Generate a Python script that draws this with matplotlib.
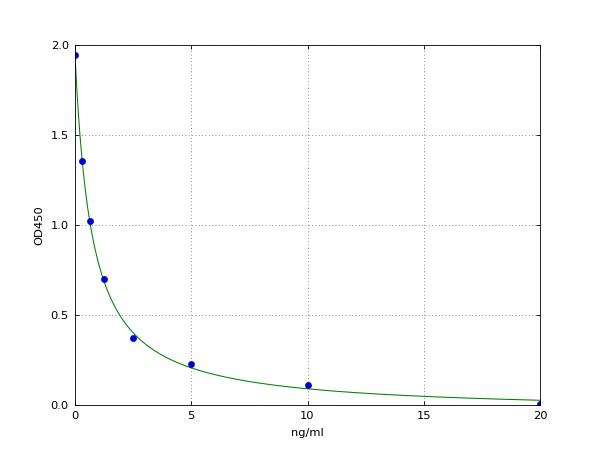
import numpy as np
import matplotlib
matplotlib.use("Agg")
import matplotlib.pyplot as plt

# standard curve points
conc = [0, 0.3125, 0.625, 1.25, 2.5, 5, 10, 20]
od450 = [1.945, 1.357, 1.02, 0.70, 0.372, 0.226, 0.111, 0.005]

x_ticks = [0, 5, 10, 15, 20]
y_ticks = [0.0, 0.5, 1.0, 1.5, 2.0]


def four_pl(x, a, b, c, d):
    u = np.power(np.asarray(x, float) / c, b)
    return d + (a - d) / (1.0 + u)


def fit_4pl(x, y, p0, n_iter=200):
    # small Levenberg-Marquardt fit, numpy only
    x = np.asarray(x, float)
    y = np.asarray(y, float)
    p = np.array(p0, float)
    lam = 1e-3
    for _ in range(n_iter):
        a, b, c, d = p
        u = np.power(x / c, b)
        g = 1.0 / (1.0 + u)
        with np.errstate(divide="ignore", invalid="ignore"):
            lnxc = np.where(x > 0, np.log(np.where(x > 0, x, 1) / c), 0.0)
        J = np.column_stack([
            g,
            -(a - d) * g**2 * u * lnxc,
            (a - d) * g**2 * u * b / c,
            1.0 - g,
        ])
        r = y - four_pl(x, *p)
        A = J.T @ J
        step = np.linalg.solve(A + lam * np.diag(np.diag(A)), J.T @ r)
        new_p = p + step
        if new_p[2] > 0 and np.sum((y - four_pl(x, *new_p))**2) < np.sum(r**2):
            p = new_p
            lam *= 0.3
        else:
            lam *= 10
    return p


params = fit_4pl(conc, od450, [1.95, 1.0, 0.7, 0.0])

plt.rcParams["font.family"] = "DejaVu Sans"
plt.rcParams["font.size"] = 11

fig, ax = plt.subplots(figsize=(8, 6), dpi=75)
fig.subplots_adjust(left=0.125, right=0.9, bottom=0.1, top=0.9)

xs = np.linspace(0, 20, 400)
ax.plot(xs, four_pl(xs, *params), color="green", linewidth=1)
ax.plot(conc, od450, "o", color="#0000dd", markersize=6,
        markeredgecolor="#000080", markeredgewidth=0.5)

ax.set_xlim(0, 20)
ax.set_ylim(0, 2.0)
ax.set_xticks(x_ticks)
ax.set_yticks(y_ticks)
ax.set_yticklabels([f"{v:.1f}" for v in y_ticks])
ax.grid(True, linestyle=(0, (1, 3)), color="#666666", linewidth=0.8)
ax.tick_params(direction="in", top=True, right=True, length=4, pad=6)
ax.set_xlabel("ng/ml", labelpad=6)
ax.set_ylabel("OD450", labelpad=6)

fig.savefig("out.png", dpi=75)
